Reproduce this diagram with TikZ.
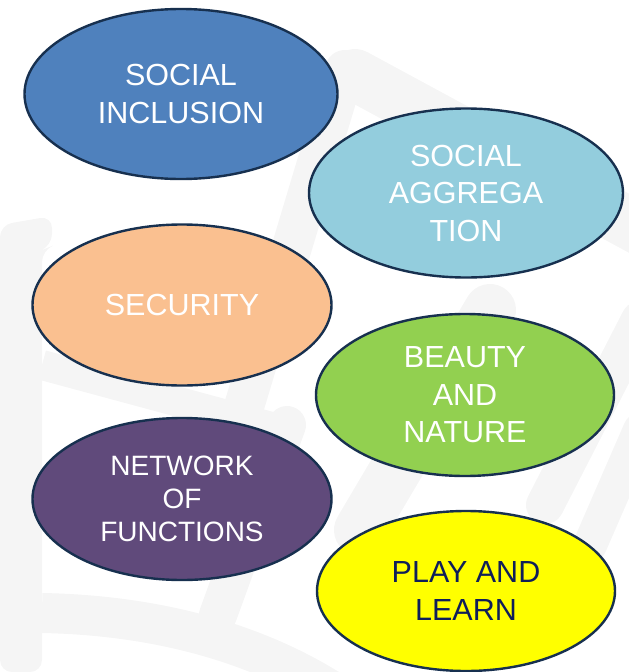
\documentclass[tikz,border=0pt]{standalone}
\usepackage{fontspec}
\setmainfont{Liberation Sans}
\usetikzlibrary{shapes.geometric}
\definecolor{bordc}{HTML}{17304F}
\definecolor{cinc}{HTML}{4F81BD}
\definecolor{cagg}{HTML}{93CDDD}
\definecolor{csec}{HTML}{FAC090}
\definecolor{cbea}{HTML}{92D050}
\definecolor{cnet}{HTML}{604A7B}
\definecolor{cply}{HTML}{FFFF00}
\definecolor{navy}{HTML}{0F1E5A}
\definecolor{wmark}{HTML}{F5F5F5}
\tikzset{
  bubble/.style={ellipse, draw=bordc, line width=2.4pt, inner sep=0pt, align=center, text=white},
  bigtxt/.style={font=\fontsize{30.5}{37.5}\selectfont},
  midtxt/.style={font=\fontsize{28}{33}\selectfont},
  wm/.style={draw=wmark, line cap=round}
}
\begin{document}
\begin{tikzpicture}[x=1pt,y=-1pt]
\useasboundingbox (0,0) rectangle (629,672);
% faint watermark
\fill[wmark, rounded corners=12] (0,225) -- (52,216) -- (52,246) -- (42,250) -- (42,672) -- (0,672) -- cycle;
\draw[wm, line width=52pt] (355,75) -- (660,240);
\draw[wm, line width=40pt] (345,70) -- (240,420);
\draw[wm, line width=38pt] (287,425) -- (218,615);
\draw[wm, line width=30pt, line cap=butt] (42,365) -- (290,432);
\draw[wm, line width=52pt] (490,310) -- (360,530);
\draw[wm, line width=38pt] (640,320) -- (545,505);
\draw[wm, line width=34pt] (640,430) -- (590,545);
\draw[wm, line width=40pt, line cap=butt] (42,613) .. controls (150,615) and (250,640) .. (330,690);
% bubbles
\node[bubble, bigtxt, fill=cinc, minimum width=313pt, minimum height=170pt] (inc) at (181,94) {SOCIAL\\INCLUSION};
\node[bubble, bigtxt, fill=cagg, minimum width=314pt, minimum height=169pt] (agg) at (466,193) {SOCIAL\\AGGREGA\\TION};
\node[bubble, bigtxt, fill=csec, minimum width=299pt, minimum height=161pt] (sec) at (182,305) {SECURITY};
\node[bubble, bigtxt, fill=cbea, minimum width=298pt, minimum height=162pt] (bea) at (465,395) {BEAUTY\\AND\\NATURE};
\node[bubble, midtxt, fill=cnet, minimum width=299pt, minimum height=162pt] (net) at (182,499) {NETWORK\\OF\\FUNCTIONS};
\node[bubble, bigtxt, fill=cply, text=navy, minimum width=298pt, minimum height=160pt] (ply) at (466,591) {PLAY AND\\LEARN};
\end{tikzpicture}
\end{document}
